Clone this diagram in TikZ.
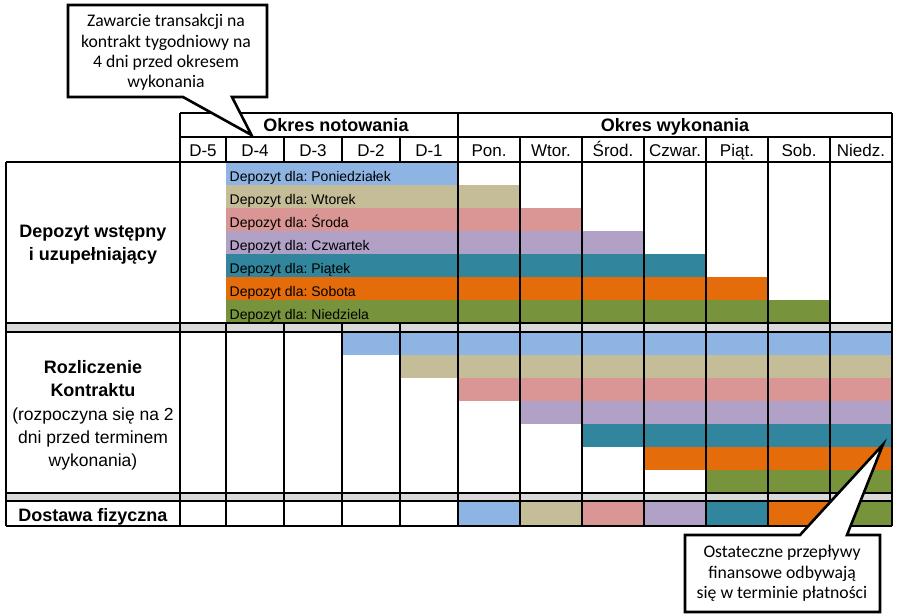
\documentclass[tikz,border=0pt]{standalone}
\usepackage{fontspec}
\setmainfont{Liberation Sans}
\newfontfamily\calfont{Carlito}
\frenchspacing
\definecolor{cblue}{HTML}{8DB4E2}
\definecolor{ctan}{HTML}{C4BD97}
\definecolor{cpink}{HTML}{D99694}
\definecolor{cpurple}{HTML}{B2A1C7}
\definecolor{cteal}{HTML}{31859C}
\definecolor{corange}{HTML}{E46C0A}
\definecolor{cgreen}{HTML}{77933C}
\definecolor{cgray}{HTML}{D9D9D9}
\begin{document}
\begin{tikzpicture}[x=1pt,y=-1pt,
  thinline/.style={line width=1.3pt},
  thickline/.style={line width=2.6pt},
  hline/.style={line width=2pt},
  hdrbold/.style={font=\fontsize{18}{22}\selectfont\bfseries, anchor=base, inner sep=0pt},
  colhdr/.style={font=\fontsize{17}{21}\selectfont, anchor=base, inner sep=0pt},
  deplab/.style={font=\fontsize{14}{17}\selectfont, anchor=base west, inner sep=0pt},
  labbold/.style={font=\fontsize{18}{22}\selectfont\bfseries, anchor=base, inner sep=0pt},
  labreg/.style={font=\fontsize{17.5}{22}\selectfont, anchor=base, inner sep=0pt},
  caltext/.style={font=\calfont\fontsize{17.7}{21}\selectfont, anchor=base, inner sep=0pt},
  calloutbox/.style={draw=black, fill=white, line width=2.6pt}
]
\useasboundingbox (0,0) rectangle (900,616);

% ---- section 1 coloured bars (initial margin)
\foreach \i/\c/\e in {0/cblue/458,1/ctan/520,2/cpink/582,3/cpurple/644,4/cteal/706,5/corange/768,6/cgreen/830}
  \fill[\c] (226,{162+23*\i}) rectangle (\e,{185+23*\i});

% ---- section 2 coloured bars (settlement)
\foreach \i/\c/\s in {0/cblue/342,1/ctan/400,2/cpink/458,3/cpurple/520,4/cteal/582,5/corange/644,6/cgreen/706}
  \fill[\c] (\s,{332+23*\i}) rectangle (892,{355+23*\i});

% ---- section 3 delivery
\foreach \c/\a/\b in {cblue/458/520,ctan/520/582,cpink/582/644,cpurple/644/706,cteal/706/768,corange/768/830,cgreen/830/892}
  \fill[\c] (\a,501) rectangle (\b,526);

% ---- gray separator bands
\fill[cgray] (6,323) rectangle (892,332);
\fill[cgray] (6,493) rectangle (892,501);

% ---- thin vertical lines
\foreach \x in {520,582,644,706,768,830}
  \draw[thinline] (\x,137) -- (\x,526);
\foreach \x in {226,284,342,400} {
  \draw[thinline] (\x,137) -- (\x,162);
  \draw[thinline] (\x,323) -- (\x,526);
}

% ---- horizontal lines
\draw[hline] (180,113) -- (892,113);
\draw[hline] (180,137) -- (892,137);
\foreach \y in {162,323,332,493,501,526}
  \draw[hline] (6,\y) -- (892,\y);

% ---- thick vertical lines
\draw[thickline] (6,162) -- (6,526);
\draw[thickline] (180,113) -- (180,526);
\draw[thickline] (458,113) -- (458,526);
\draw[thickline] (892,113) -- (892,526);

% ---- header texts
\node[hdrbold] (hnot) at (336,131.5) {Okres notowania};
\node[hdrbold] (hwyk) at (675,131.5) {Okres wykonania};
\foreach \n/\x/\t in {d5/203/D-5,d4/255/D-4,d3/313/D-3,d2/371/D-2,d1/429/D-1,
                      pon/489/Pon.,wto/551/Wtor.,sro/613/Środ.,czw/675/Czwar.,pia/737/Piąt.,sob/799/Sob.,nie/861/Niedz.}
  \node[colhdr] (\n) at (\x,156.5) {\t};

% ---- deposit labels
\foreach \i/\t in {0/Poniedziałek,1/Wtorek,2/Środa,3/Czwartek,4/Piątek,5/Sobota,6/Niedziela}
  \node[deplab] (dep\i) at (229.5,{181.5+23*\i}) {Depozyt dla: \t};

% ---- row labels
\node[labbold] (l1a) at (93,237.3) {Depozyt wstępny};
\node[labbold] (l1b) at (93,260.7) {i uzupełniający};
\node[labbold] (l2a) at (93,373.3) {Rozliczenie};
\node[labbold] (l2b) at (93,396.5) {Kontraktu};
\node[labreg]  (l2c) at (93,420) {(rozpoczyna się na 2};
\node[labreg]  (l2d) at (93,443.3) {dni przed terminem};
\node[labreg]  (l2e) at (93,466.6) {wykonania)};
\node[labbold] (l3a) at (93,521.7) {Dostawa fizyczna};

% ---- callout 1
\draw[calloutbox] (68,5) -- (267,5) -- (267,97) -- (232,97) -- (251.5,135) -- (183,97) -- (68,97) -- cycle;
\node[caltext] (c1a) at (166,26) {Zawarcie transakcji na};
\node[caltext] (c1b) at (166,47) {kontrakt tygodniowy na};
\node[caltext] (c1c) at (166,67) {4 dni przed okresem};
\node[caltext] (c1d) at (166,87.5) {wykonania};

% ---- callout 2
\draw[calloutbox] (685,535) -- (800,535) -- (883,444.5) -- (847,535) -- (880,535) -- (880,612) -- (685,612) -- cycle;
\node[caltext] (c2a) at (782,557) {Ostateczne przepływy};
\node[caltext] (c2b) at (782,578) {finansowe odbywają};
\node[caltext] (c2c) at (782,598.5) {się w terminie płatności};
\end{tikzpicture}
\end{document}
